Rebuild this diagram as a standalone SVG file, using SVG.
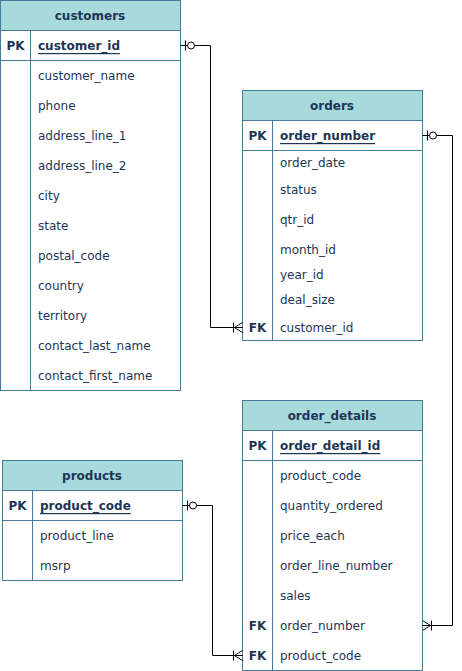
<svg xmlns="http://www.w3.org/2000/svg" width="462" height="671" viewBox="0 0 462 671">
<style>
.box{fill:#fff;stroke:#457B9D;stroke-width:1}
.hd{fill:#A8DADC;stroke:#457B9D;stroke-width:1}
.ln{stroke:#457B9D;stroke-width:1;fill:none}
text{font-family:"DejaVu Sans",Verdana,sans-serif;font-size:12px;fill:#1D3557;dominant-baseline:central}
.t{font-weight:bold;text-anchor:middle}
.k{font-weight:bold;text-anchor:middle}
.pk{font-weight:bold;text-decoration:underline}
.c{stroke:#000;stroke-width:1;fill:none}
</style>
<defs>
<marker id="one0" markerWidth="20" markerHeight="12" refX="0" refY="6" orient="auto" markerUnits="userSpaceOnUse">
<path d="M5,1V11M14,6H20" stroke="#000" fill="none"/>
<circle cx="10.5" cy="6" r="3.5" fill="#fff" stroke="#000"/>
</marker>
<marker id="many1" markerWidth="12" markerHeight="12" refX="12" refY="6" orient="auto" markerUnits="userSpaceOnUse">
<path d="M3,1V11M0,6H12M4,6L12,1M4,6L12,11" stroke="#000" fill="none"/>
</marker>
</defs>
<g id="customers">
<rect class="hd" x="0.5" y="0.5" width="180" height="30"/>
<text class="t" x="90" y="16">customers</text>
<rect class="box" x="0.5" y="30.5" width="180" height="30"/>
<rect class="box" x="0.5" y="60.5" width="180" height="330"/>
<line class="ln" x1="30.5" y1="30.5" x2="30.5" y2="390.5"/>
<text class="k" x="15.5" y="46">PK</text>
<text class="pk" x="38" y="46">customer_id</text>
<text x="38" y="76">customer_name</text>
<text x="38" y="106">phone</text>
<text x="38" y="136">address_line_1</text>
<text x="38" y="166">address_line_2</text>
<text x="38" y="196">city</text>
<text x="38" y="226">state</text>
<text x="38" y="256">postal_code</text>
<text x="38" y="286">country</text>
<text x="38" y="316">territory</text>
<text x="38" y="346">contact_last_name</text>
<text x="38" y="376">contact_first_name</text>
</g>
<g id="orders">
<rect class="hd" x="242.5" y="90.5" width="180" height="30"/>
<text class="t" x="332" y="106">orders</text>
<rect class="box" x="242.5" y="120.5" width="180" height="30"/>
<rect class="box" x="242.5" y="150.5" width="180" height="190"/>
<line class="ln" x1="272.5" y1="120.5" x2="272.5" y2="340.5"/>
<text class="k" x="257.5" y="136">PK</text>
<text class="pk" x="280" y="136">order_number</text>
<text x="280" y="163">order_date</text>
<text x="280" y="190">status</text>
<text x="280" y="220">qtr_id</text>
<text x="280" y="250">month_id</text>
<text x="280" y="275">year_id</text>
<text x="280" y="300">deal_size</text>
<text class="k" x="257.5" y="328">FK</text>
<text x="280" y="328">customer_id</text>
</g>
<g id="order_details">
<rect class="hd" x="242.5" y="400.5" width="180" height="30"/>
<text class="t" x="332" y="416">order_details</text>
<rect class="box" x="242.5" y="430.5" width="180" height="30"/>
<rect class="box" x="242.5" y="460.5" width="180" height="210"/>
<line class="ln" x1="272.5" y1="430.5" x2="272.5" y2="670.5"/>
<text class="k" x="257.5" y="446">PK</text>
<text class="pk" x="280" y="446">order_detail_id</text>
<text x="280" y="476">product_code</text>
<text x="280" y="506">quantity_ordered</text>
<text x="280" y="536">price_each</text>
<text x="280" y="566">order_line_number</text>
<text x="280" y="596">sales</text>
<text class="k" x="257.5" y="626">FK</text>
<text x="280" y="626">order_number</text>
<text class="k" x="257.5" y="656">FK</text>
<text x="280" y="656">product_code</text>
</g>
<g id="products">
<rect class="hd" x="2.5" y="460.5" width="180" height="30"/>
<text class="t" x="92" y="476">products</text>
<rect class="box" x="2.5" y="490.5" width="180" height="30"/>
<rect class="box" x="2.5" y="520.5" width="180" height="60"/>
<line class="ln" x1="32.5" y1="490.5" x2="32.5" y2="580.5"/>
<text class="k" x="17.5" y="506">PK</text>
<text class="pk" x="40" y="506">product_code</text>
<text x="40" y="536">product_line</text>
<text x="40" y="566">msrp</text>
</g>
<g id="connectors">
<path class="c" d="M180.5,45.5H210.5V327.5H242.5" marker-start="url(#one0)" marker-end="url(#many1)"/>
<path class="c" d="M422.5,135.5H452.5V625.5H422.5" marker-start="url(#one0)" marker-end="url(#many1)"/>
<path class="c" d="M182.5,505.5H212.5V655.5H242.5" marker-start="url(#one0)" marker-end="url(#many1)"/>
</g>
</svg>
